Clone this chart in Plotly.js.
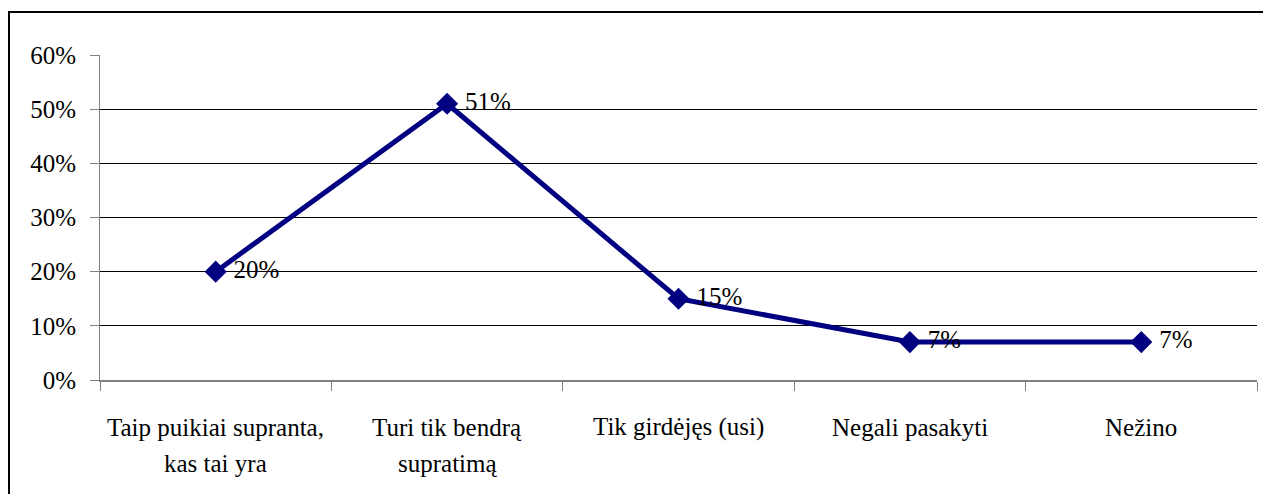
<!DOCTYPE html>
<html>
<head>
<meta charset="utf-8">
<script src="https://cdn.plot.ly/plotly-3.0.1.min.js"></script>
<style>
html,body{margin:0;padding:0;background:#fff;}
#chart{width:1263px;height:494px;}
</style>
</head>
<body>
<div id="chart"></div>
<script>
// Data
const categories = ["Taip puikiai supranta, kas tai yra", "Turi tik bendrą supratimą", "Tik girdėjęs (usi)", "Negali pasakyti", "Nežino"];
const labelLine1 = ["Taip puikiai supranta,", "Turi tik bendrą", "Tik girdėjęs (usi)", "Negali pasakyti", "Nežino"];
const labelLine2 = ["kas tai yra", "supratimą", "", "", ""];
const values = [0.20, 0.51, 0.15, 0.07, 0.07];
const valueLabels = ["20%", "51%", "15%", "7%", "7%"];

const FONT = "Liberation Serif";
const FS = 25;
const W = 1263, H = 494;
const margin = {l: 100, r: 6, t: 55, b: 114};
const pw = W - margin.l - margin.r, ph = H - margin.t - margin.b;

function draw() {
  const trace = {
    x: categories,
    y: values,
    type: "scatter",
    mode: "lines+markers+text",
    text: valueLabels.map(s => "\u00a0" + s),
    textposition: "middle right",
    textfont: {family: FONT, size: FS, color: "#000000"},
    line: {color: "#000080", width: 5},
    marker: {symbol: "diamond", size: 17, color: "#000080"},
    cliponaxis: false,
    hoverinfo: "skip"
  };

  const annotations = [];
  categories.forEach((c, i) => {
    annotations.push({xref: "x", yref: "paper", x: c, y: 0, yanchor: "middle", xanchor: "center",
      yshift: -47, text: labelLine1[i], showarrow: false, font: {family: FONT, size: FS, color: "#000000"}});
    if (labelLine2[i]) {
      annotations.push({xref: "x", yref: "paper", x: c, y: 0, yanchor: "middle", xanchor: "center",
        yshift: -83, text: labelLine2[i], showarrow: false, font: {family: FONT, size: FS, color: "#000000"}});
    }
  });

  const layout = {
    width: W, height: H,
    margin: margin,
    paper_bgcolor: "#ffffff", plot_bgcolor: "#ffffff",
    showlegend: false,
    xaxis: {
      type: "category",
      range: [-0.5, 4.5],
      autorange: false,
      showticklabels: false,
      showgrid: false,
      zeroline: false,
      showline: true, linecolor: "#808080", linewidth: 2,
      ticks: "outside", tickson: "boundaries", ticklen: 9, tickcolor: "#808080", tickwidth: 1,
      fixedrange: true
    },
    yaxis: {
      range: [0, 0.6],
      autorange: false,
      dtick: 0.1,
      tickformat: ".0%",
      showgrid: true, gridcolor: "#000000", gridwidth: 1,
      zeroline: false,
      showline: true, linecolor: "#808080", linewidth: 1,
      ticks: "outside", ticklen: 9, tickcolor: "#808080", tickwidth: 1,
      ticklabelstandoff: 9,
      tickfont: {family: FONT, size: FS, color: "#000000"},
      fixedrange: true
    },
    annotations: annotations,
    shapes: [{
      type: "rect", xref: "paper", yref: "paper",
      x0: (9 - margin.l) / pw, x1: 1.2,
      y0: -0.6, y1: (H - margin.b - 12) / ph,
      line: {color: "#000000", width: 2}, fillcolor: "rgba(0,0,0,0)", layer: "below"
    }]
  };

  Plotly.newPlot("chart", [trace], layout, {displayModeBar: false, staticPlot: true});
}

if (document.fonts && document.fonts.load) {
  document.fonts.load(FS + 'px "' + FONT + '"').then(draw, draw);
} else {
  draw();
}
</script>
</body>
</html>
